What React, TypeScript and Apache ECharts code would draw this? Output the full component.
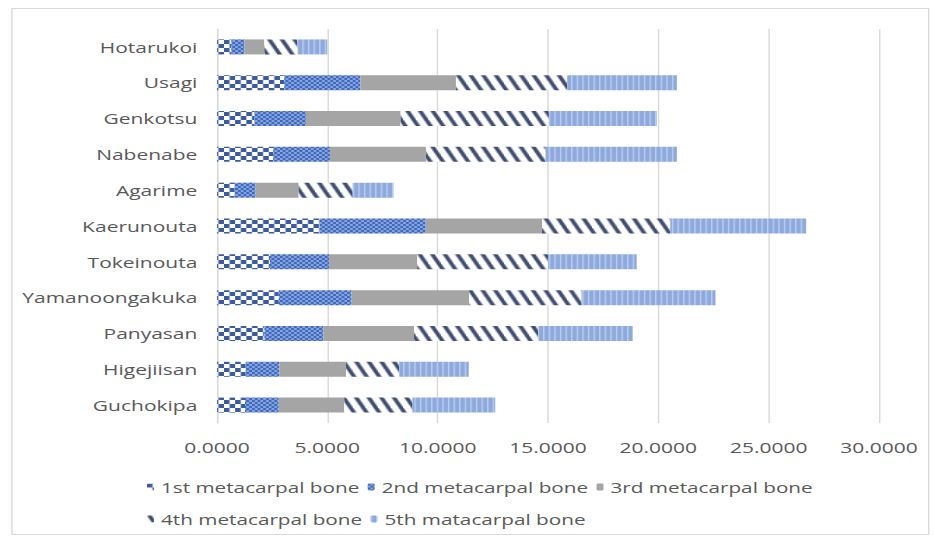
import React, { useEffect, useRef } from "react";
import * as echarts from "echarts";

// Songs (top to bottom) and the length of each metacarpal segment
const categories = [
  "Hotarukoi",
  "Usagi",
  "Genkotsu",
  "Nabenabe",
  "Agarime",
  "Kaerunouta",
  "Tokeinouta",
  "Yamanoongakuka",
  "Panyasan",
  "Higejiisan",
  "Guchokipa",
];
const seriesNames = [
  "1st metacarpal bone",
  "2nd metacarpal bone",
  "3rd metacarpal bone",
  "4th metacarpal bone",
  "5th matacarpal bone",
];
const firstBone = [0.65, 3.05, 1.7, 2.55, 0.8, 4.65, 2.4, 2.8, 2.15, 1.3, 1.27];
const secondBone = [0.6, 3.45, 2.33, 2.57, 0.95, 4.81, 2.68, 3.3, 2.67, 1.53, 1.53];
const thirdBone = [0.9, 4.33, 4.29, 4.35, 1.95, 5.27, 3.99, 5.33, 4.11, 3.02, 2.97];
const fourthBone = [1.5, 5.04, 6.72, 5.42, 2.45, 5.81, 5.93, 5.09, 5.63, 2.41, 3.09];
const fifthBone = [1.35, 4.97, 4.89, 5.95, 1.85, 6.16, 4.02, 6.07, 4.28, 3.15, 3.75];
const xTicks = { min: 0, max: 30, interval: 5 };

const OUTER_W = 935;
const OUTER_H = 540;
const INNER_W = 668;
const STRETCH = OUTER_W / INNER_W;

function tile(w: number, h: number, draw: (ctx: CanvasRenderingContext2D) => void) {
  const c = document.createElement("canvas");
  c.width = w;
  c.height = h;
  const ctx = c.getContext("2d")!;
  draw(ctx);
  return { image: c, repeat: "repeat", imageWidth: w, imageHeight: h };
}

function makePatterns() {
  const largeChecker = tile(8, 8, (ctx) => {
    ctx.fillStyle = "#ffffff";
    ctx.fillRect(0, 0, 8, 8);
    ctx.fillStyle = "#3b5b9c";
    ctx.fillRect(0, 0, 4, 4);
    ctx.fillRect(4, 4, 4, 4);
  });
  const smallChecker = tile(4, 4, (ctx) => {
    ctx.fillStyle = "#88a6e2";
    ctx.fillRect(0, 0, 4, 4);
    ctx.fillStyle = "#3d66b8";
    ctx.fillRect(0, 0, 2, 2);
    ctx.fillRect(2, 2, 2, 2);
  });
  const stripes = tile(9, 18, (ctx) => {
    ctx.fillStyle = "#ffffff";
    ctx.fillRect(0, 0, 9, 18);
    ctx.fillStyle = "#3e4c6e";
    const t = 3.4;
    for (const o of [-9, 0, 9]) {
      ctx.beginPath();
      ctx.moveTo(o, 0);
      ctx.lineTo(o + t, 0);
      ctx.lineTo(o + t + 9, 18);
      ctx.lineTo(o + 9, 18);
      ctx.closePath();
      ctx.fill();
    }
  });
  const lightVertical = tile(4, 4, (ctx) => {
    ctx.fillStyle = "#8eaadc";
    ctx.fillRect(0, 0, 4, 4);
    ctx.fillStyle = "#bccdee";
    ctx.fillRect(0, 0, 1, 4);
  });
  return [largeChecker, smallChecker, "#a5a5a5", stripes, lightVertical];
}

export default function App() {
  const ref = useRef<HTMLDivElement>(null);

  useEffect(() => {
    if (!ref.current) return;
    const chart = echarts.init(ref.current, null, { renderer: "svg" });
    const fills = makePatterns();
    const values = [firstBone, secondBone, thirdBone, fourthBone, fifthBone];
    const font = "'Open Sans', 'DejaVu Sans', sans-serif";

    chart.setOption({
      animation: false,
      backgroundColor: "#ffffff",
      textStyle: { fontFamily: font },
      graphic: [
        {
          type: "rect",
          shape: { x: 8.5, y: 8.5, width: INNER_W - 13, height: OUTER_H - 14 },
          style: { fill: "none", stroke: "#d9d9d9", lineWidth: 1 },
          silent: true,
        },
      ],
      grid: { left: 155, right: 40, top: 29, bottom: 117 },
      legend: {
        left: 100,
        top: 469,
        width: 500,
        itemWidth: 5,
        itemHeight: 7,
        itemGap: 6,
        textStyle: { color: "#595959", fontSize: 14.8, lineHeight: 26, fontFamily: font },
        data: seriesNames,
      },
      xAxis: {
        type: "value",
        min: xTicks.min,
        max: xTicks.max,
        interval: xTicks.interval,
        axisLine: { show: false },
        axisTick: { show: false },
        splitLine: { lineStyle: { color: "#d9d9d9", width: 1 } },
        axisLabel: {
          color: "#595959",
          fontSize: 15,
          margin: 17,
          formatter: (v: number) => v.toFixed(4),
        },
      },
      yAxis: {
        type: "category",
        inverse: true,
        data: categories,
        axisLine: { show: true, lineStyle: { color: "#d9d9d9" } },
        axisTick: { show: false },
        axisLabel: { color: "#595959", fontSize: 15, margin: 14 },
      },
      series: seriesNames.map((name, i) => ({
        name,
        type: "bar",
        stack: "bones",
        barWidth: 15,
        data: values[i],
        itemStyle: { color: fills[i] },
        emphasis: { disabled: true },
      })),
    });

    return () => chart.dispose();
  }, []);

  return (
    <div
      style={{
        position: "fixed",
        left: 0,
        top: 0,
        width: OUTER_W,
        height: OUTER_H,
        overflow: "hidden",
        background: "#ffffff",
      }}
    >
      <div
        ref={ref}
        style={{
          width: INNER_W,
          height: OUTER_H,
          transform: `scaleX(${STRETCH})`,
          transformOrigin: "0 0",
        }}
      />
    </div>
  );
}
